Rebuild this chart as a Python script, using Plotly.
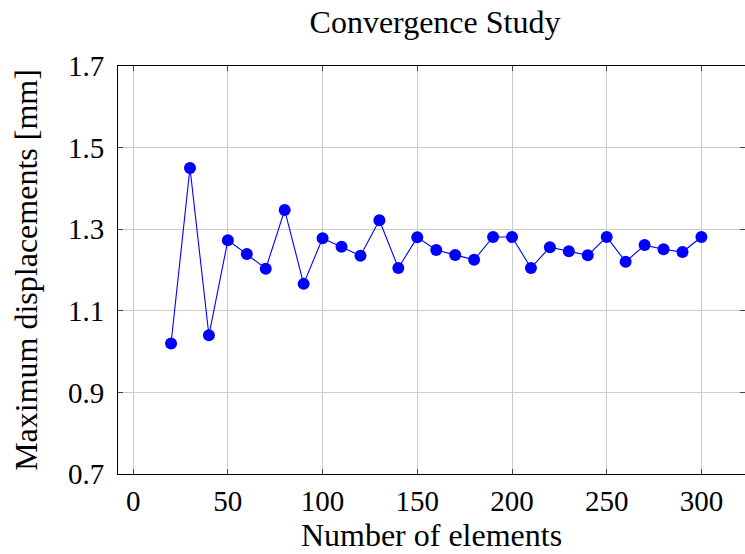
import plotly.graph_objects as go

elements = [20, 30, 40, 50, 60, 70, 80, 90, 100, 110, 120, 130, 140, 150, 160,
            170, 180, 190, 200, 210, 220, 230, 240, 250, 260, 270, 280, 290, 300]
max_disp = [1.020, 1.450, 1.040, 1.273, 1.239, 1.203, 1.347, 1.166, 1.278, 1.257,
            1.235, 1.322, 1.205, 1.280, 1.249, 1.237, 1.225, 1.281, 1.281, 1.205,
            1.256, 1.246, 1.236, 1.281, 1.220, 1.261, 1.251, 1.244, 1.281]
x_ticks = [0, 50, 100, 150, 200, 250, 300]
y_ticks = [0.7, 0.9, 1.1, 1.3, 1.5, 1.7]
y_tick_labels = ["0.7", "0.9", "1.1", "1.3", "1.5", "1.7"]

FONT = "Liberation Serif"
TEXT_SIZE = 32
TICK_SIZE = 29

fig = go.Figure()
fig.add_trace(go.Scatter(
    x=elements, y=max_disp, mode="lines+markers",
    line=dict(color="#0000ff", width=1.1),
    marker=dict(color="#0000ff", size=12, line=dict(width=0)),
    showlegend=False,
))

fig.update_layout(
    width=745, height=554,
    margin=dict(l=118, r=0, t=66, b=80),
    paper_bgcolor="white", plot_bgcolor="white",
    font=dict(family=FONT, color="black"),
    title=dict(text="Convergence Study", x=435/745, xanchor="center",
               y=1 - 22/554, yanchor="middle", font=dict(size=32, family=FONT)),
)
fig.update_xaxes(
    range=[-8, 323], tickvals=x_ticks, ticks="inside", ticklen=5,
    tickcolor="#444", showline=True, linecolor="black", linewidth=1,
    mirror="ticks", showgrid=True, gridcolor="#cbcbcb", gridwidth=1,
    zeroline=False, tickfont=dict(size=TICK_SIZE, family=FONT),
    ticklabelstandoff=1,
    title=dict(text="Number of elements", font=dict(size=TEXT_SIZE, family=FONT), standoff=4),
)
fig.update_yaxes(
    range=[0.7, 1.7], tickvals=y_ticks, ticktext=y_tick_labels, ticks="inside",
    ticklen=5, tickcolor="#444", showline=True, linecolor="black", linewidth=1,
    mirror="ticks", showgrid=True, gridcolor="#cbcbcb", gridwidth=1,
    zeroline=False, tickfont=dict(size=TICK_SIZE, family=FONT),
    ticklabelstandoff=7,
    title=dict(text="Maximum displacements [mm]", font=dict(size=TEXT_SIZE, family=FONT), standoff=20),
)

fig.write_html("out.html")
